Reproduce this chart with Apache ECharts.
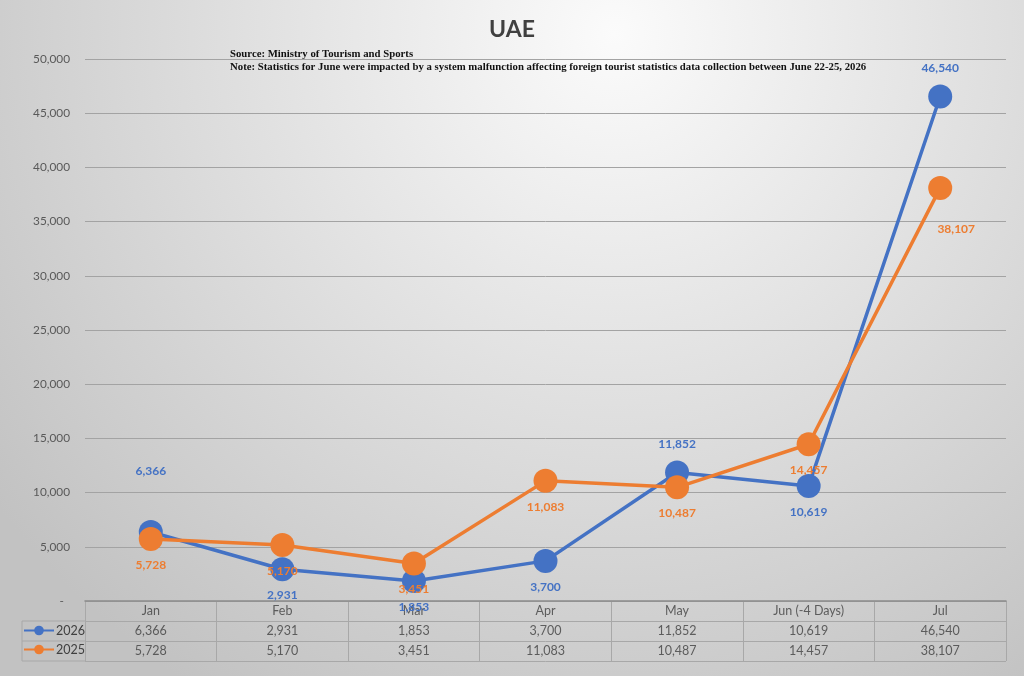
<!DOCTYPE html>
<html>
<head>
<meta charset="utf-8">
<script src="https://cdn.jsdelivr.net/npm/echarts@6/dist/echarts.min.js"></script>
<style>html,body{margin:0;padding:0;background:#fff}#c{width:1024px;height:676px}</style>
</head>
<body>
<div id="c"></div>
<script>
const categories = ['Jan', 'Feb', 'Mar', 'Apr', 'May', 'Jun (-4 Days)', 'Jul'];
const values2026 = [6366, 2931, 1853, 3700, 11852, 10619, 46540];
const values2025 = [5728, 5170, 3451, 11083, 10487, 14457, 38107];
const seriesNames = ['2026', '2025'];
const titleText = 'UAE';
const noteLines = [
  'Source: Ministry of Tourism and Sports',
  'Note: Statistics for June were impacted by a system malfunction affecting foreign tourist statistics data collection between June 22-25, 2026'
];

const BLUE = '#4472C4', ORANGE = '#ED7D31', TXT = '#404040';
const fmt = v => Number(v).toLocaleString('en-US');

// label placement (styling)
const bluePos = ['top', 'bottom', 'bottom', 'bottom', 'top', 'bottom', 'top'];
const blueOff = [[0, -33], [0, 0], [0, 0], [0, 0], [0, 0], [0, 0], [0, 0]];
const orangePos = ['bottom', 'bottom', 'bottom', 'bottom', 'bottom', 'bottom', 'bottom'];
const orangeOff = [[0, 0], [0, 0], [0, 0], [0, 0], [0, 0], [0, 0], [16, 15]];

function lineData(vals, pos, off) {
  return vals.map((v, i) => ({
    value: v,
    label: { position: pos[i], offset: off[i], distance: pos[i] === 'top' ? 10 : 8 }
  }));
}

// table cells built from the arrays
const rows = [categories, values2026.map(fmt), values2025.map(fmt)];
const tableData = [];
rows.forEach((r, ri) => r.forEach((t, ci) => tableData.push({ value: [ci, ri, t] })));

const lineSeries = (name, vals, color, pos, off) => ({
  name, type: 'line', xAxisIndex: 0, yAxisIndex: 0,
  data: lineData(vals, pos, off),
  symbol: 'circle', symbolSize: 24,
  lineStyle: { width: 3.5, color },
  itemStyle: { color },
  label: { show: true, color, fontSize: 12, fontWeight: 'bold', fontFamily: 'Lato', formatter: p => fmt(p.value) },
  emphasis: { disabled: true },
  animation: false
});

const option = {
  animation: false,
  backgroundColor: {
    type: 'radial', x: 0.6, y: 0.05, r: 1.15,
    colorStops: [{ offset: 0, color: '#fbfbfb' }, { offset: 1, color: '#c2c2c2' }]
  },
  title: [
    { text: titleText, left: 'center', top: 13, textStyle: { fontFamily: 'Lato', fontSize: 23, fontWeight: 'bold', color: TXT } },
    { text: noteLines.join('\n'), left: 225, top: 43, textStyle: { fontFamily: 'Liberation Serif', fontSize: 10.75, fontWeight: 'bold', color: '#111', lineHeight: 12.5 } }
  ],
  legend: {
    data: seriesNames, orient: 'vertical', left: 23, top: 624, padding: 0,
    itemWidth: 30, itemHeight: 12, itemGap: 6,
    textStyle: { fontFamily: 'Lato', fontSize: 12.5, color: TXT, padding: [0, 0, 0, -3] }
  },
  grid: [
    { left: 85, right: 18, top: 59, bottom: 75 },
    { left: 85, right: 18, top: 601, height: 60 }
  ],
  xAxis: [
    { gridIndex: 0, type: 'category', data: categories, boundaryGap: true,
      axisLine: { lineStyle: { color: '#8a8a8a', width: 1.5 } }, axisTick: { show: false }, axisLabel: { show: false } },
    { gridIndex: 1, type: 'category', data: categories, boundaryGap: true,
      axisLine: { show: false }, axisTick: { show: false }, axisLabel: { show: false },
      splitLine: { show: true, interval: 0, lineStyle: { color: '#a8a8a8' } } }
  ],
  yAxis: [
    { gridIndex: 0, type: 'value', min: 0, max: 50000, interval: 5000,
      axisLine: { show: false }, axisTick: { show: false },
      axisLabel: { margin: 15, color: '#595959', fontFamily: 'Lato', fontSize: 11.8, formatter: v => v === 0 ? '-  ' : fmt(v) },
      splitLine: { lineStyle: { color: '#a3a3a3', width: 1 } } },
    { gridIndex: 1, type: 'category', data: ['', seriesNames[0], seriesNames[1]], inverse: true, boundaryGap: true,
      axisLine: { show: false }, axisTick: { show: false }, axisLabel: { show: false },
      splitLine: { show: true, interval: 0, lineStyle: { color: '#a8a8a8' } } }
  ],
  graphic: [
    { type: 'polyline', z: 1, shape: { points: [[85, 621], [22, 621], [22, 661], [85, 661]] }, style: { stroke: '#a8a8a8', fill: null, lineWidth: 1 } },
    { type: 'line', z: 1, shape: { x1: 22, y1: 641, x2: 85, y2: 641 }, style: { stroke: '#a8a8a8', lineWidth: 1 } }
  ],
  series: [
    lineSeries(seriesNames[0], values2026, BLUE, bluePos, blueOff),
    lineSeries(seriesNames[1], values2025, ORANGE, orangePos, orangeOff),
    {
      type: 'scatter', xAxisIndex: 1, yAxisIndex: 1, data: tableData,
      symbolSize: 1, itemStyle: { color: 'rgba(0,0,0,0)' }, silent: true,
      label: { show: true, position: 'inside', color: TXT, fontFamily: 'Lato', fontSize: 12.5, formatter: p => p.value[2] }
    }
  ]
};

const chart = echarts.init(document.getElementById('c'));
chart.setOption(option);
</script>
</body>
</html>
